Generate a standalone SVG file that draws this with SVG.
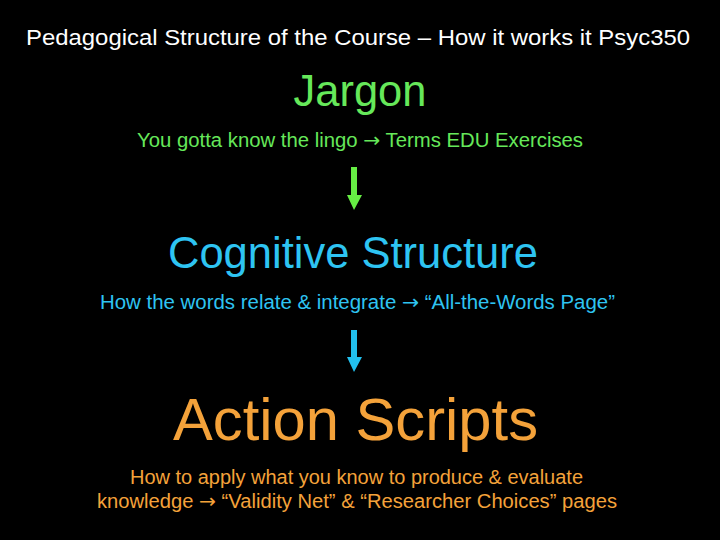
<svg xmlns="http://www.w3.org/2000/svg" width="720" height="540" viewBox="0 0 720 540">
<style>
text{font-family:"Liberation Sans",Arial,sans-serif;text-anchor:middle}
.a{font-family:"DejaVu Sans",sans-serif}
.t{fill:#ffffff;font-size:22px}
.g{fill:#66e85a}
.b{fill:#2ec4f2}
.o{fill:#f4a23a}
.h1{font-size:44px}
.h2{font-size:60px}
.s{font-size:20px}
</style>
<rect width="720" height="540" fill="#000"/>
<text class="t" x="358" y="45" textLength="664" lengthAdjust="spacingAndGlyphs">Pedagogical Structure of the Course – How it works it Psyc350</text>
<g id="jargon">
<text class="g h1" x="360" y="106" textLength="133" lengthAdjust="spacingAndGlyphs">Jargon</text>
<text class="g s" x="360" y="147" textLength="446" lengthAdjust="spacingAndGlyphs">You gotta know the lingo <tspan class="a">→</tspan> Terms EDU Exercises</text>
</g>
<g id="cognitive">
<text class="b h1" x="353" y="268" textLength="370" lengthAdjust="spacingAndGlyphs">Cognitive Structure</text>
<text class="b s" x="357.5" y="309" textLength="515" lengthAdjust="spacingAndGlyphs">How the words relate &amp; integrate <tspan class="a">→</tspan> “All-the-Words Page”</text>
</g>
<g id="action">
<text class="o h2" x="355.5" y="440" textLength="365" lengthAdjust="spacingAndGlyphs">Action Scripts</text>
<text class="o s" x="356.5" y="484" textLength="453" lengthAdjust="spacingAndGlyphs">How to apply what you know to produce &amp; evaluate</text>
<text class="o s" x="357" y="508" textLength="520" lengthAdjust="spacingAndGlyphs">knowledge <tspan class="a">→</tspan> “Validity Net” &amp; “Researcher Choices” pages</text>
</g>
<g id="connectors">
<path d="M351 167H357V195H362L354 210L347 195H351Z" fill="#66ee44"/>
<path d="M351 330H357V357H362L354 372L347 357H351Z" fill="#22c0ee"/>
</g>
</svg>
